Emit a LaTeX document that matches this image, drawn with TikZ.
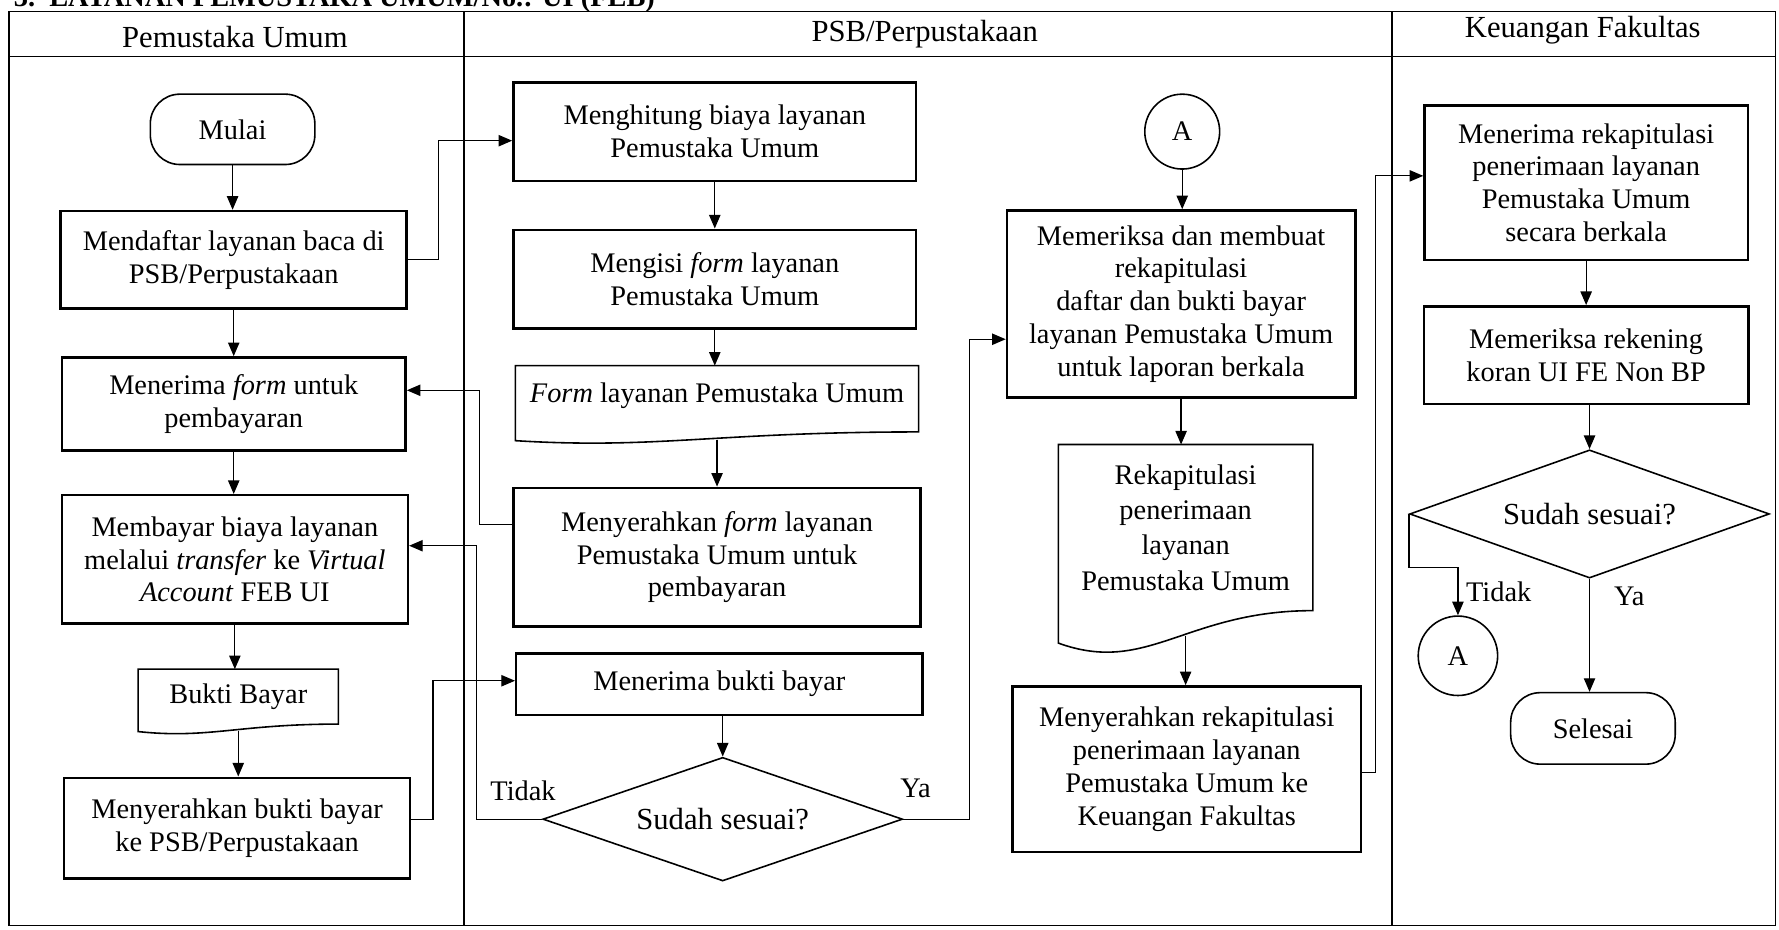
\documentclass[tikz,border=0pt]{standalone}
\usepackage{fontspec}
\setmainfont{Liberation Serif}
\usetikzlibrary{arrows.meta,shapes.geometric,calc}
\newcommand\nodefont{\fontsize{25pt}{29pt}\selectfont}
\newcommand\headfont{\fontsize{27pt}{31pt}\selectfont}
\newcommand\docshape[2]{%
 \draw[docline] ($(#1.south west)+(0,0.1*#2)$) -- (#1.north west) -- (#1.north east) -- ($(#1.south east)+(0,-#2)$)
 .. controls ($(#1.south west)!0.5!(#1.south east)+(0,-#2)$) and ($(#1.south west)!0.35!(#1.south east)+(0,1.2*#2)$) .. ($(#1.south west)+(0,0.1*#2)$) -- cycle;}
\begin{document}
\begin{tikzpicture}[x=1pt,y=-1pt,
 base/.style={font=\nodefont,align=center,inner sep=0pt},
 proc/.style={base,draw,line width=2.2pt},
 term/.style={base,draw,line width=1.4pt,rounded corners=26pt},
 dec/.style={base,font=\headfont,draw,diamond,aspect=2.9,line width=1.4pt},
 conn/.style={base,draw,circle,line width=1.4pt,minimum size=66pt},
 docbox/.style={base},
 docline/.style={line width=1.4pt},
 lbl/.style={base},
 arr/.style={line width=1.1pt,-{Triangle[length=12pt,width=10pt]}},
 frame/.style={line width=1.2pt}]
\useasboundingbox (0,0) rectangle (1568,819);
\fill[white] (0,0) rectangle (1568,819);
% frame and lanes
\draw[frame] (8,10) rectangle (1565,816);
\draw[frame] (8,50) -- (1565,50);
\draw[frame] (409,10) -- (409,816);
\draw[frame] (1227,10) -- (1227,816);
\node[anchor=base west,font=\bfseries\nodefont,inner sep=0pt] (title) at (12,6) {3.\ \ LAYANAN PEMUSTAKA UMUM/No.: UI (FEB)};
\node[base,font=\headfont] (h1) at (207,33) {Pemustaka Umum};
\node[base,font=\headfont] (h2) at (815,30) {PSB/Perpustakaan};
\node[base,font=\headfont] (h3) at (1395,27) {Keuangan Fakultas};
% lane 1
\node[term,minimum width=145pt,minimum height=62pt] (mulai) at (205,114) {Mulai};
\node[proc,minimum width=305pt,minimum height=86pt] (daftar) at (206,229) {Mendaftar layanan baca di\\PSB/Perpustakaan};
\node[proc,minimum width=303pt,minimum height=82pt] (terimaform) at (206,356) {Menerima \textit{form} untuk\\pembayaran};
\node[proc,minimum width=305pt,minimum height=113pt] (bayar) at (207,493) {Membayar biaya layanan\\melalui \textit{transfer} ke \textit{Virtual}\\\textit{Account} FEB UI};
\node[docbox,minimum width=176pt,minimum height=54pt] (bukti) at (210,617) {};
\docshape{bukti}{6}
\node[base] (buktitext) at (210,614) {Bukti Bayar};
\node[proc,minimum width=305pt,minimum height=89pt] (serahbukti) at (209,730) {Menyerahkan bukti bayar\\ke PSB/Perpustakaan};
% lane 2
\node[proc,minimum width=355pt,minimum height=87pt] (hitung) at (630,116) {Menghitung biaya layanan\\Pemustaka Umum};
\node[proc,minimum width=355pt,minimum height=87pt] (isi) at (630,246) {Mengisi \textit{form} layanan\\Pemustaka Umum};
\node[docbox,minimum width=355pt,minimum height=65pt] (formdoc) at (632,355) {};
\docshape{formdoc}{7}
\node[base] (formtext) at (632,349) {\textit{Form} layanan Pemustaka Umum};
\node[proc,minimum width=359pt,minimum height=122pt] (serahform) at (632,491) {Menyerahkan \textit{form} layanan\\Pemustaka Umum untuk\\pembayaran};
\node[proc,minimum width=358pt,minimum height=54pt] (terimabukti) at (634,603) {Menerima bukti bayar};
\node[dec,minimum width=317pt,minimum height=109pt] (cek1) at (637,722) {Sudah sesuai?};
\node[lbl] (tidak1) at (461,697) {Tidak};
\node[lbl] (ya1) at (807,695) {Ya};
% lane 2b
\node[conn] (a1) at (1042,116) {A};
\node[proc,minimum width=307pt,minimum height=165pt] (periksa) at (1041,268) {Memeriksa dan membuat\\rekapitulasi\\daftar dan bukti bayar\\layanan Pemustaka Umum\\untuk laporan berkala};
\node[docbox,minimum width=224pt,minimum height=172pt] (rekap) at (1045,478) {};
\docshape{rekap}{26}
\node[base,font=\fontsize{25pt}{31pt}\selectfont] (rekaptext) at (1045,465) {Rekapitulasi\\penerimaan\\layanan\\Pemustaka Umum};
\node[proc,minimum width=307pt,minimum height=146pt] (serahrekap) at (1046,678) {Menyerahkan rekapitulasi\\penerimaan layanan\\Pemustaka Umum ke\\Keuangan Fakultas};
% lane 3
\node[proc,minimum width=285pt,minimum height=136pt] (terimarekap) at (1398,161) {Menerima rekapitulasi\\penerimaan layanan\\Pemustaka Umum\\secara berkala};
\node[proc,minimum width=286pt,minimum height=86pt] (periksarek) at (1398,313) {Memeriksa rekening\\koran UI FE Non BP};
\node[dec,minimum width=317pt,minimum height=113pt] (cek2) at (1401,453) {Sudah sesuai?};
\node[conn,minimum size=70pt] (a2) at (1285,578) {A};
\node[term,minimum width=145pt,minimum height=63pt] (selesai) at (1404,642) {Selesai};
\node[lbl,anchor=west] (tidak2) at (1292,522) {Tidak};
\node[lbl] (ya2) at (1436,526) {Ya};
% connectors
\draw[arr] (mulai.south) -- (mulai.south |- daftar.north);
\draw[arr] (daftar.east) -- ++(27,0) |- ([yshift=-8pt]hitung.west);
\draw[arr] (daftar.south) -- (daftar.south |- terimaform.north);
\draw[arr] (terimaform.south) -- (terimaform.south |- bayar.north);
\draw[arr] (bayar.south) -- (bayar.south |- bukti.north);
\draw[arr] (bukti.south) -- (bukti.south |- serahbukti.north);
\draw[arr] ([yshift=8pt]serahbukti.east) -- ++(19,0) |- ([yshift=3pt]terimabukti.west);
\draw[arr] (hitung.south) -- (hitung.south |- isi.north);
\draw[arr] (isi.south) -- (isi.south |- formdoc.north);
\draw[arr] (formdoc.south) -- (formdoc.south |- serahform.north);
\draw[arr] ([yshift=29pt]serahform.west) -- ++(-29,0) |- ([yshift=12pt]terimaform.east);
\draw[arr] (cek1.north |- terimabukti.south) -- (cek1.north);
\draw[arr] (cek1.west) -- ++(-58,0) |- ([yshift=12pt]bayar.east);
\draw[arr] (cek1.east) -- ++(58,0) |- ([yshift=-31pt]periksa.west);
\draw[arr] (a1.south) -- (a1.south |- periksa.north);
\draw[arr] (periksa.south) -- (periksa.south |- rekap.north);
\draw[arr] ([yshift=4pt]rekap.south) -- (rekap.south |- serahrekap.north);
\draw[arr] ([yshift=-3pt]serahrekap.east) -- ++(12,0) |- ([yshift=6pt]terimarekap.west);
\draw[arr] (terimarekap.south) -- (terimarekap.south |- periksarek.north);
\draw[arr] (cek2.north |- periksarek.south) -- (cek2.north);
\draw[arr] (cek2.west) -- ++(0,47) -| (a2.north);
\draw[arr] (cek2.south) -- (cek2.south |- selesai.north);
\end{tikzpicture}
\end{document}
